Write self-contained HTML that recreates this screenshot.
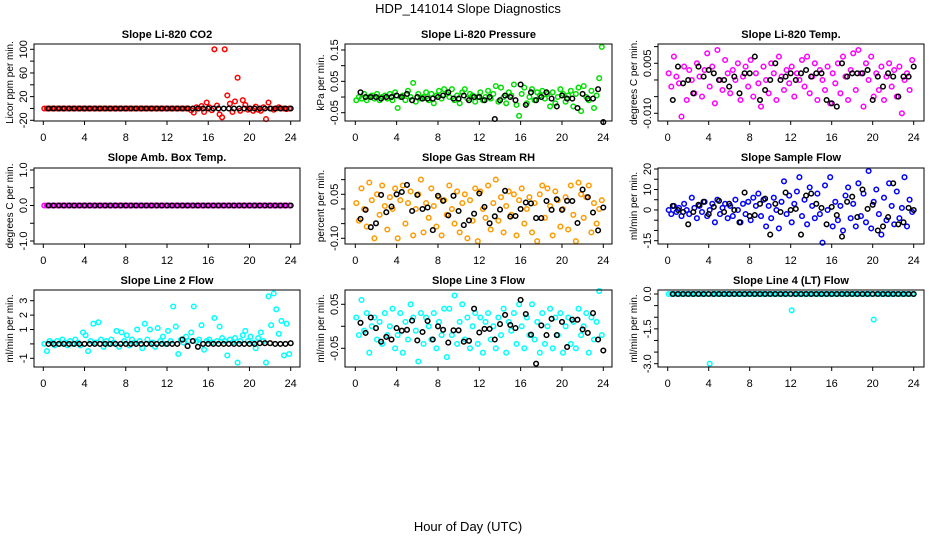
<!DOCTYPE html>
<html><head><meta charset="utf-8"><style>
html,body{margin:0;padding:0;background:#fff}
svg{display:block;font-family:"Liberation Sans",sans-serif}
</style></head><body>
<svg id="chart" width="936" height="540" viewBox="0 0 936 540">
<text x="468" y="13" text-anchor="middle" font-size="13">HDP_141014  Slope Diagnostics</text>
<text x="468" y="531" text-anchor="middle" font-size="13">Hour of Day (UTC)</text>
</svg>
<script>
const blackHours=[0.5,1,1.5,2,2.5,3,3.5,4,4.5,5,5.5,6,6.5,7,7.5,8,8.5,9,9.5,10,10.5,11,11.5,12,12.5,13,13.5,14,14.5,15,15.5,16,16.5,17,17.5,18,18.5,19,19.5,20,20.5,21,21.5,22,22.5,23,23.5,24];
const colorHours=[0.1,0.35,0.6,0.85,1.1,1.35,1.6,1.85,2.1,2.35,2.6,2.85,
3.1,3.35,3.6,3.85,4.1,4.35,4.6,4.85,5.1,5.35,5.6,5.85,
6.1,6.35,6.6,6.85,7.1,7.35,7.6,7.85,8.1,8.35,8.6,8.85,
9.1,9.35,9.6,9.85,10.1,10.35,10.6,10.85,11.1,11.35,11.6,11.85,
12.1,12.35,12.6,12.85,13.1,13.35,13.6,13.85,14.1,14.35,14.6,14.85,
15.1,15.35,15.6,15.85,16.1,16.35,16.6,16.85,17.1,17.35,17.6,17.85,
18.1,18.35,18.6,18.85,19.1,19.35,19.6,19.85,20.1,20.35,20.6,20.85,
21.1,21.35,21.6,21.85,22.1,22.35,22.6,22.85,23.1,23.35,23.6,23.85];
const xTicks=[0,4,8,12,16,20,24];

const co2Color=[0,0,0,0,0,0,0,0,0,0,0,0, 0,0,0,0,0,0,0,0,0,0,0,0, 0,0,0,0,0,0,0,0,0,0,0,0, 0,0,0,0,0,0,0,0,0,0,0,0, 0,0,0,0,0,0,0,0,
0,-3,-7,2, 0,4,-6,10,2,-3,100,5,-10,-15,100,22, 8,-6,12,52,-4,14,6,-2,0,-4,3,-2, -4,2,-18,10,0,-2,0,2,0,0,-1,0];
const co2Black=[0,0,0,0,0,0,0,0,0,0,0,0,0,0,0,0,0,0,0,0,0,0,0,0,0,0,0,0,0,0,0,0,0,0,0,0,0,0,0,0,0,0,0,0,0,0,0,0];

const presColor=[-0.01,0.0,-0.005,0.01,-0.01,0.0,0.005,-0.005,0.01,-0.01,0.0,0.005,
-0.005,0.01,-0.01,0.015,-0.035,0.0,0.005,-0.01,0.02,0.0,0.045,-0.015,
0.01,-0.005,0.0,0.015,-0.01,0.01,-0.02,0.005,0.02,-0.005,0.025,0.01,
0.0,0.025,-0.01,0.005,-0.02,0.015,0.025,-0.005,0.01,0.005,-0.015,0.0,
0.015,-0.01,0.0,0.02,-0.005,0.01,0.035,-0.015,0.03,0.0,-0.02,0.015,
0.005,0.04,-0.025,-0.06,0.01,0.03,-0.02,0.0,0.025,-0.01,0.015,0.005,
0.02,-0.005,0.01,-0.03,0.015,-0.02,0.0,0.025,0.01,-0.015,0.005,0.02,
-0.03,0.01,0.03,-0.045,0.035,0.0,-0.01,0.02,-0.035,0.005,0.06,0.16];
const presBlack=[0.015,0.0,0.0,0.0,-0.005,0.0,0.0,0.005,0.0,0.01,-0.01,0.0,
-0.005,-0.005,-0.005,0.0,0.005,0.015,-0.005,-0.005,0.005,-0.01,0.0,0.0,
-0.01,0.0,-0.07,-0.01,0.005,0.0,-0.01,0.04,-0.025,0.015,-0.01,0.0,
0.015,-0.005,-0.03,0.005,-0.005,-0.005,-0.035,0.01,-0.005,-0.005,0.025,-0.08];

const tempColor=[0.002,-0.002,0.007,0.001,-0.001,-0.011,0.004,-0.006,0.003,0.0,-0.004,0.005,
0.001,-0.005,0.003,0.008,-0.002,0.004,-0.007,0.009,0.0,-0.003,0.006,0.002,
-0.004,0.003,0.0,0.005,-0.006,0.001,0.004,-0.002,0.006,-0.005,0.002,-0.001,
-0.008,0.004,0.0,-0.004,0.005,0.002,-0.006,0.007,0.001,-0.003,0.003,-0.001,
0.004,-0.005,0.002,0.0,0.006,-0.002,0.007,-0.004,0.001,0.005,-0.006,0.003,
0.0,-0.003,0.004,-0.007,0.002,-0.001,0.005,-0.004,0.007,0.001,-0.006,0.003,
0.008,-0.003,0.009,0.002,-0.008,0.005,0.0,0.007,-0.005,0.002,-0.003,0.004,
-0.006,0.001,0.005,-0.002,0.003,-0.005,0.004,-0.01,0.0,0.002,-0.003,0.006];
const tempBlack=[-0.006,0.004,-0.001,0.0,-0.004,0.004,0.001,0.003,0.002,0.0,0.0,-0.002,
0.001,-0.004,0.002,0.002,0.007,-0.006,-0.003,0.0,0.005,0.0,0.001,0.002,
0.0,0.002,0.003,0.001,0.002,0.002,-0.006,-0.007,-0.008,0.005,0.001,0.002,
0.002,0.002,0.003,-0.006,0.001,-0.002,0.002,0.001,-0.005,0.001,0.001,0.004];

const ambColor=[0,0,0,0,0,0,0,0,0,0,0,0,0,0,0,0,0,0,0,0,0,0,0,0,0,0,0,0,0,0,0,0,0,0,0,0,0,0,0,0,0,0,0,0,0,0,0,0,
0,0,0,0,0,0,0,0,0,0,0,0,0,0,0,0,0,0,0,0,0,0,0,0,0,0,0,0,0,0,0,0,0,0,0,0,0,0,0,0,0,0,0,0,0,0,0,0];
const ambBlack=[0,0,0,0,0,0,0,0,0,0,0,0,0,0,0,0,0,0,0,0,0,0,0,0,0,0,0,0,0,0,0,0,0,0,0,0,0,0,0,0,0,0,0,0,0,0,0,0];

const gasColor=[0.02,-0.04,0.07,0.0,-0.06,0.09,0.03,-0.1,0.05,-0.02,0.08,0.01,
-0.07,0.04,0.0,0.07,-0.1,0.03,0.08,-0.05,0.02,0.06,-0.09,0.0,
0.05,0.1,-0.08,0.02,-0.03,0.07,0.01,-0.06,0.04,-0.09,0.03,-0.02,
0.08,0.0,-0.05,0.06,-0.08,0.02,0.05,-0.1,0.03,-0.04,0.07,-0.11,
0.06,0.0,-0.03,0.08,-0.07,0.02,0.1,-0.04,0.04,-0.08,0.01,0.06,
-0.02,0.05,-0.09,0.03,0.07,-0.05,0.0,0.04,-0.08,0.02,-0.11,0.05,
0.08,-0.03,0.07,0.01,-0.09,0.06,0.03,-0.06,0.0,0.04,-0.07,0.08,
-0.02,-0.11,0.09,0.05,-0.03,0.04,0.08,-0.08,0.02,-0.05,0.0,0.03];
const gasBlack=[-0.034,-0.003,-0.062,-0.049,0.048,-0.011,0.008,0.05,0.058,0.082,-0.007,0.048,
0.0,0.005,-0.072,0.045,0.028,-0.022,0.045,-0.007,-0.055,-0.039,-0.016,0.053,
0.007,-0.049,-0.025,-0.002,0.062,-0.026,-0.024,0.0,0.022,0.019,-0.031,-0.031,
0.027,-0.003,0.033,-0.003,0.028,0.027,-0.048,0.066,0.04,-0.012,-0.073,0.005];

const flowColor=[0,-2,2,-1,1,-3,3,0,-2,6,1,-4,
2,-1,4,-3,0,3,-6,5,-2,1,3,-4,
2,-3,5,0,-6,3,-2,4,-5,6,2,8,
-3,5,-8,2,-4,6,0,-9,4,14,-2,7,
-6,3,9,16,-3,5,-7,11,2,-4,8,-2,
-16,12,0,16,-8,4,-5,2,-10,7,11,-4,
3,-8,13,-3,8,-6,19,-9,4,10,-2,-12,
6,-5,13,2,-7,9,-4,1,16,-8,5,-1];
const flowBlack=[2,0,-1,-7,-1,2.5,4,-2,1.5,4.5,-1,3,
0,-6,8.5,-3,-2.5,3,5.5,-12,3,-1,8.5,0,
0.5,-12,7,8,3,1,-7,1.5,-2.5,-13,4,6.5,
-3.5,10,0.5,2.5,-10,-8,-3.5,13,-7,-6,1,0];

const line2Color=[0.0,-0.5,0.2,0.1,-0.1,0.2,0.0,0.3,0.1,-0.1,0.2,0.0,
0.3,0.1,-0.1,0.8,0.6,-0.5,0.2,1.4,0.1,1.5,0.3,-0.2,
0.2,0.0,0.3,0.1,0.9,-0.2,0.8,0.2,0.6,-0.1,0.3,0.1,
1.0,0.2,-0.3,1.4,0.3,1.0,0.1,-0.2,1.1,0.2,0.5,0.0,
0.9,0.2,2.6,1.2,-0.7,0.3,0.1,0.5,0.2,0.8,2.6,0.2,
0.3,1.3,-0.4,0.2,0.3,0.1,1.8,0.2,1.2,0.4,0.2,-0.8,
0.3,0.1,0.4,-1.3,0.2,0.6,0.9,0.2,0.5,0.1,-0.3,0.4,
0.8,0.2,-1.3,3.3,1.3,3.5,2.4,0.7,1.6,-0.8,1.4,-0.7];
const line2Black=[0,0,0,0,0,0,0,0,0,0,0,0,0,0,0,0,0,0,0,0,0,0,0,0,
0,0,0.3,-0.15,0.2,-0.2,0,0,0,0,0,0,0,0,0,0,0,0.05,0.05,0.05,0,0,0,0.05];

const line3Color=[0.02,-0.02,0.06,-0.01,0.03,-0.06,0.0,0.02,-0.03,0.01,-0.04,0.03,
-0.02,0.0,0.04,-0.05,-0.02,0.03,-0.06,0.01,-0.03,0.05,0.02,-0.01,
-0.08,0.03,-0.04,0.02,0.0,-0.03,0.03,-0.05,0.01,-0.02,0.04,-0.07,
0.04,-0.02,0.07,-0.04,0.01,0.05,-0.03,0.02,-0.05,0.0,0.03,-0.04,
0.02,-0.06,0.01,0.03,-0.03,0.0,-0.05,0.02,-0.02,0.04,-0.06,0.01,
-0.01,0.03,-0.04,0.05,0.0,-0.05,0.02,-0.02,0.05,-0.03,0.01,-0.06,
0.03,-0.04,0.0,0.04,-0.05,0.02,-0.02,0.03,-0.06,0.0,0.02,-0.04,
0.01,-0.05,0.04,-0.02,0.0,0.03,-0.06,0.02,-0.03,0.01,0.08,-0.02];
const line3Black=[0.008,-0.015,0.02,-0.004,-0.035,-0.024,-0.03,-0.004,-0.01,-0.008,0.013,-0.032,
-0.013,0.012,-0.03,0.0,-0.008,-0.037,-0.009,-0.009,-0.035,-0.033,0.04,-0.014,
-0.006,-0.006,-0.03,0.005,0.026,0.003,-0.004,0.06,0.028,-0.019,-0.085,0.002,
-0.02,0.017,-0.02,0.01,-0.047,0.015,0.015,-0.007,-0.015,0.03,-0.03,-0.055];

const line4Color=[0,0,0,0,0,0,0,0,0,0,0,0,0,0,0,0,-3.0,0,0,0,0,0,0,0,
0,0,0,0,0,0,0,0,0,0,0,0,0,0,0,0,0,0,0,0,0,0,0,0,
-0.7,0,0,0,0,0,0,0,0,0,0,0,0,0,0,0,0,0,0,0,0,0,0,0,
0,0,0,0,0,0,0,0,-1.1,0,0,0,0,0,0,0,0,0,0,0,0,0,0,0];
const line4Black=[0,0,0,0,0,0,0,0,0,0,0,0,0,0,0,0,0,0,0,0,0,0,0,0,0,0,0,0,0,0,0,0,0,0,0,0,0,0,0,0,0,0,0,0,0,0,0,0];

const co2Ticks=[-20,0,20,40,60,80,100], co2Labels=["-20","","20","","60","","100"];
const presTicks=[-0.05,0,0.05,0.1,0.15], presLabels=["-0.05","","0.05","","0.15"];
const tempTicks=[-0.01,-0.005,0,0.005,0.01], tempLabels=["-0.010","","","0.005",""];
const ambTicks=[-1,-0.5,0,0.5,1], ambLabels=["-1.0","","0.0","","1.0"];
const gasTicks=[-0.1,-0.05,0,0.05,0.1], gasLabels=["-0.10","","","0.05",""];
const flowTicks=[-15,-10,-5,0,5,10,15,20], flowLabels=["-15","","","0","","10","","20"];
const line2Ticks=[-1,0,1,2,3], line2Labels=["-1","","1","2","3"];
const line3Ticks=[-0.05,0,0.05], line3Labels=["-0.05","","0.05"];
const line4Ticks=[-3,-2.5,-2,-1.5,-1,-0.5,0], line4Labels=["-3.0","","","-1.5","","","0.0"];

const NS="http://www.w3.org/2000/svg";
const svg=document.getElementById('chart');
function el(tag,attrs,parent){const e=document.createElementNS(NS,tag);for(const k in attrs)e.setAttribute(k,attrs[k]);(parent||svg).appendChild(e);return e;}

const cols=[{L:34,R:300,x0:43.3,x24:290.7},{L:345,R:612,x0:355.3,x24:603.3},{L:658,R:924,x0:667.7,x24:913.7}];
const rows=[{T:44,B:121,title:38},{T:168,B:244,title:161},{T:290,B:367,title:284}];

const panels=[
 {name:'co2',title:'Slope Li-820 CO2',ylab:'Licor ppm per min.',c:0,r:0,col:'#ff0000',v1:100,y1:49.3,v2:-20,y2:120.3,color:co2Color,black:co2Black,ticks:co2Ticks,labels:co2Labels},
 {name:'pressure',title:'Slope Li-820 Pressure',ylab:'kPa per min.',c:1,r:0,col:'#00e000',v1:0.15,y1:50,v2:-0.05,y2:112.7,color:presColor,black:presBlack,ticks:presTicks,labels:presLabels},
 {name:'temp',title:'Slope Li-820 Temp.',ylab:'degrees C per min.',c:2,r:0,col:'#ff00ff',v1:0.005,y1:63.3,v2:-0.01,y2:113.3,color:tempColor,black:tempBlack,ticks:tempTicks,labels:tempLabels},
 {name:'amb-box-temp',title:'Slope Amb. Box Temp.',ylab:'degrees C per min.',c:0,r:1,col:'#ff00ff',v1:1,y1:170,v2:-1,y2:241,color:ambColor,black:ambBlack,ticks:ambTicks,labels:ambLabels},
 {name:'gas-rh',title:'Slope Gas Stream RH',ylab:'percent per min.',c:1,r:1,col:'#ff9a00',v1:0.05,y1:194.3,v2:-0.1,y2:238.3,color:gasColor,black:gasBlack,ticks:gasTicks,labels:gasLabels},
 {name:'sample-flow',title:'Slope Sample Flow',ylab:'ml/min per min.',c:2,r:1,col:'#0000ff',v1:20,y1:169,v2:-15,y2:240.7,color:flowColor,black:flowBlack,ticks:flowTicks,labels:flowLabels},
 {name:'line2-flow',title:'Slope Line 2 Flow',ylab:'ml/min per min.',c:0,r:2,col:'#00ffff',v1:3,y1:300.7,v2:-1,y2:358.3,color:line2Color,black:line2Black,ticks:line2Ticks,labels:line2Labels},
 {name:'line3-flow',title:'Slope Line 3 Flow',ylab:'ml/min per min.',c:1,r:2,col:'#00ffff',v1:0.05,y1:304.3,v2:-0.05,y2:348.3,color:line3Color,black:line3Black,ticks:line3Ticks,labels:line3Labels},
 {name:'line4-flow',title:'Slope Line 4 (LT) Flow',ylab:'ml/min per min.',c:2,r:2,col:'#00ffff',v1:0,y1:294,v2:-3,y2:363.7,color:line4Color,black:line4Black,ticks:line4Ticks,labels:line4Labels}
];

panels.forEach(p=>{
 const C=cols[p.c],Rw=rows[p.r];
 const sx=h=>C.x0+h*(C.x24-C.x0)/24;
 const sy=v=>p.y1+(v-p.v1)*(p.y2-p.y1)/(p.v2-p.v1);
 const g=el('g',{});
 
 
 const t=el('text',{x:(C.L+C.R)/2,y:Rw.title,'text-anchor':'middle','font-size':11,'font-weight':'bold'},g);
 t.textContent=p.title;
 
 
 const yl=el('text',{x:0,y:0,'text-anchor':'middle','font-size':10,transform:`translate(${C.L-21},${(Rw.T+Rw.B)/2}) rotate(-90)`},g);
 yl.textContent=p.ylab;
 
 
 const pts=el('g',{fill:'none','stroke-width':1.5},g);
 
 
 p.color.forEach((v,i)=>{
  const c=el('circle',{cx:sx(colorHours[i]).toFixed(1),cy:sy(v).toFixed(1),r:2.3,stroke:p.col},pts);
  
  
 });
 p.black.forEach((v,i)=>{
  const c=el('circle',{cx:sx(blackHours[i]).toFixed(1),cy:sy(v).toFixed(1),r:2.3,stroke:'#000'},pts);
  
  
 });
 const box=el('rect',{x:C.L,y:Rw.T,width:C.R-C.L,height:Rw.B-Rw.T,fill:'none',stroke:'#000','stroke-width':1},g);
 
 
 const ya=el('g',{stroke:'#000','stroke-width':1},g);
 
 
 const ax=C.L;
 p.ticks.forEach((tv,i)=>{
  el('line',{x1:ax-4,x2:ax,y1:sy(tv),y2:sy(tv)},ya);
  if(p.labels[i]){
   const lt=el('text',{x:0,y:0,'text-anchor':'middle','font-size':11,stroke:'none',fill:'#000',transform:`translate(${ax-7},${sy(tv)}) rotate(-90)`},ya);
   lt.textContent=p.labels[i];
   
   
  }
 });
 const xa=el('g',{stroke:'#000','stroke-width':1},g);
 
 
 const ay=Rw.B;
 xTicks.forEach(h=>{
  el('line',{x1:sx(h),x2:sx(h),y1:ay,y2:ay+4},xa);
  const lt=el('text',{x:sx(h),y:ay+20,'text-anchor':'middle','font-size':11,stroke:'none',fill:'#000'},xa);
  lt.textContent=h;
  
  
 });
});
</script>
</body></html>
